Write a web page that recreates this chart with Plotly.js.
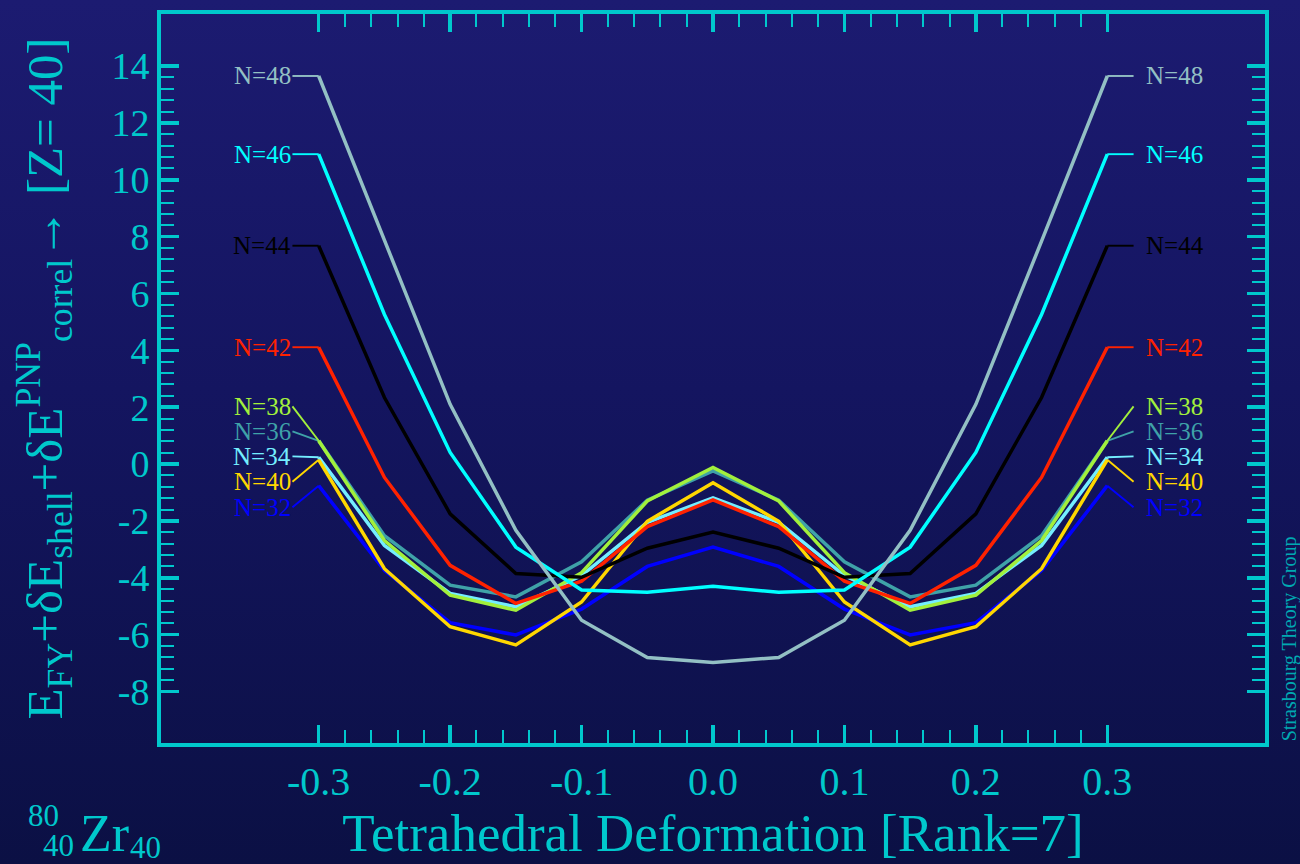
<!DOCTYPE html>
<html>
<head>
<meta charset="utf-8">
<script src="https://cdn.plot.ly/plotly-3.0.1.min.js"></script>
<style>
  html, body { margin: 0; padding: 0; }
  #chart { width: 1300px; height: 864px; background: linear-gradient(to bottom, #1c1b71 0%, #141560 45%, #0b1044 100%); }
</style>
</head>
<body>
<div id="chart"></div>
<script>
// ---- data ----
const deformation = [-0.3, -0.25, -0.2, -0.15, -0.1, -0.05, 0.0, 0.05, 0.1, 0.15, 0.2, 0.25, 0.3];

const seriesNames = ['N=32', 'N=34', 'N=36', 'N=38', 'N=40', 'N=42', 'N=44', 'N=46', 'N=48'];

const N32 = [-0.76, -3.74, -5.58, -6.01, -5.10, -3.60, -2.92, -3.60, -5.10, -6.01, -5.58, -3.74, -0.76];
const N34 = [0.24, -2.86, -4.55, -5.02, -3.92, -2.05, -1.19, -2.05, -3.92, -5.02, -4.55, -2.86, 0.24];
const N36 = [0.82, -2.52, -4.26, -4.67, -3.44, -1.27, -0.24, -1.27, -3.44, -4.67, -4.26, -2.52, 0.82];
const N38 = [0.82, -2.69, -4.61, -5.14, -3.82, -1.30, -0.12, -1.30, -3.82, -5.14, -4.61, -2.69, 0.82];
const N40 = [0.15, -3.68, -5.72, -6.36, -4.85, -2.01, -0.66, -2.01, -4.85, -6.36, -5.72, -3.68, 0.15];
const N42 = [4.11, -0.47, -3.56, -4.90, -4.12, -2.20, -1.26, -2.20, -4.12, -4.90, -3.56, -0.47, 4.11];
const N44 = [7.68, 2.34, -1.75, -3.85, -3.98, -2.96, -2.39, -2.96, -3.98, -3.85, -1.75, 2.34, 7.68];
const N46 = [10.90, 5.26, 0.41, -2.92, -4.43, -4.51, -4.30, -4.51, -4.43, -2.92, 0.41, 5.26, 10.90];
const N48 = [13.65, 7.84, 2.10, -2.33, -5.49, -6.80, -6.98, -6.80, -5.49, -2.33, 2.10, 7.84, 13.65];

// label heights (energy value where each N= label sits, both sides)
const labelLevels = [-1.52, 0.27, 1.15, 2.03, -0.62, 4.11, 7.68, 10.90, 13.65];

const xTickValues = [-0.3, -0.2, -0.1, 0.0, 0.1, 0.2, 0.3];
const xTickLabels = ['-0.3', '-0.2', '-0.1', '0.0', '0.1', '0.2', '0.3'];
const yTickValues = [-8, -6, -4, -2, 0, 2, 4, 6, 8, 10, 12, 14];
const yTickLabels = ['-8', '-6', '-4', '-2', '0', '2', '4', '6', '8', '10', '12', '14'];

// ---- styling ----
const seriesValues = [N32, N34, N36, N38, N40, N42, N44, N46, N48];
const seriesColors = ['#0000ff', '#74eeff', '#3fa2a8', '#a2f03c', '#ffd700', '#ff2200', '#000000', '#00ffff', '#93c0c4'];
const AX = '#00c8cc';
const FONT = '"Liberation Serif", "DejaVu Serif", serif';
const labelOffset = 0.02;

// minor tick positions restricted to the span of the major ticks
const minorX = [];
for (let k = -15; k <= 15; k++) { if (k % 5 !== 0) minorX.push(+(k * 0.02).toFixed(2)); }
const minorY = [];
for (let k = -20; k <= 35; k++) { if (k % 5 !== 0) minorY.push(+(k * 0.4).toFixed(1)); }

const xFirst = deformation[0];
const xLast = deformation[deformation.length - 1];

const traces = [];
const annotations = [];
seriesValues.forEach((vals, i) => {
  traces.push({
    x: deformation, y: vals, type: 'scatter', mode: 'lines',
    line: { color: seriesColors[i], width: 3.5 }, hoverinfo: 'skip', showlegend: false
  });
  // connectors to the labels
  traces.push({
    x: [xFirst - labelOffset, xFirst], y: [labelLevels[i], vals[0]], type: 'scatter', mode: 'lines',
    line: { color: seriesColors[i], width: 1.9 }, hoverinfo: 'skip', showlegend: false
  });
  traces.push({
    x: [xLast, xLast + labelOffset], y: [vals[vals.length - 1], labelLevels[i]], type: 'scatter', mode: 'lines',
    line: { color: seriesColors[i], width: 1.9 }, hoverinfo: 'skip', showlegend: false
  });
  annotations.push({
    x: xFirst - labelOffset, y: labelLevels[i], xref: 'x', yref: 'y', text: seriesNames[i],
    showarrow: false, xanchor: 'right', yanchor: 'middle', xshift: 1,
    font: { family: FONT, size: 25, color: seriesColors[i] }
  });
  annotations.push({
    x: xLast + labelOffset, y: labelLevels[i], xref: 'x', yref: 'y', text: seriesNames[i],
    showarrow: false, xanchor: 'left', yanchor: 'middle', xshift: 10,
    font: { family: FONT, size: 25, color: seriesColors[i] }
  });
});

// nucleus label and credit
annotations.push({ x: -0.106, y: -0.100, xref: 'paper', yref: 'paper', text: '80', showarrow: false,
  xanchor: 'center', yanchor: 'middle', font: { family: FONT, size: 31, color: AX } });
annotations.push({ x: -0.093, y: -0.141, xref: 'paper', yref: 'paper', text: '40', showarrow: false,
  xanchor: 'center', yanchor: 'middle', font: { family: FONT, size: 31, color: AX } });
annotations.push({ x: -0.051, y: -0.124, xref: 'paper', yref: 'paper', text: 'Zr', showarrow: false,
  xanchor: 'center', yanchor: 'middle', font: { family: FONT, size: 52, color: AX } });
annotations.push({ x: -0.014, y: -0.143, xref: 'paper', yref: 'paper', text: '40', showarrow: false,
  xanchor: 'center', yanchor: 'middle', font: { family: FONT, size: 31, color: AX } });
annotations.push({ x: 1.0225, y: 0, xref: 'paper', yref: 'paper', text: 'Strasbourg Theory Group', showarrow: false,
  textangle: -90, xanchor: 'center', yanchor: 'bottom', font: { family: FONT, size: 20, color: '#00a9b2' } });

const layout = {
  width: 1300, height: 864,
  paper_bgcolor: 'rgba(0,0,0,0)', plot_bgcolor: 'rgba(0,0,0,0)',
  margin: { l: 161, r: 35, t: 14, b: 121 },
  showlegend: false,
  xaxis: {
    range: [-0.42, 0.42], tickmode: 'array', tickvals: xTickValues, ticktext: xTickLabels,
    ticks: 'inside', ticklen: 18, tickwidth: 3.5, tickcolor: AX,
    showline: true, linewidth: 4, linecolor: AX, mirror: 'allticks',
    showgrid: false, zeroline: false,
    tickfont: { family: FONT, size: 40, color: AX },
    minor: { tickmode: 'array', tickvals: minorX, ticks: 'inside', ticklen: 13, tickwidth: 2, tickcolor: AX, showgrid: false },
    title: { text: 'Tetrahedral Deformation [Rank=7]', font: { family: FONT, size: 53, color: AX }, standoff: 8 }
  },
  yaxis: {
    range: [-9.81, 15.83], tickmode: 'array', tickvals: yTickValues, ticktext: yTickLabels,
    ticks: 'inside', ticklen: 18, tickwidth: 3.5, tickcolor: AX,
    showline: true, linewidth: 4, linecolor: AX, mirror: 'allticks',
    showgrid: false, zeroline: false,
    tickfont: { family: FONT, size: 38, color: AX },
    minor: { tickmode: 'array', tickvals: minorY, ticks: 'inside', ticklen: 13, tickwidth: 2, tickcolor: AX, showgrid: false },
    title: { text: 'E<sub>FY</sub>+δE<sub>shell</sub>+δE<sup>PNP</sup><sub>correl</sub>→ [Z= 40]', font: { family: FONT, size: 51, color: AX }, standoff: 34 }
  },
  annotations: annotations
};

Plotly.newPlot('chart', traces, layout, { displayModeBar: false, staticPlot: true });
</script>
</body>
</html>
